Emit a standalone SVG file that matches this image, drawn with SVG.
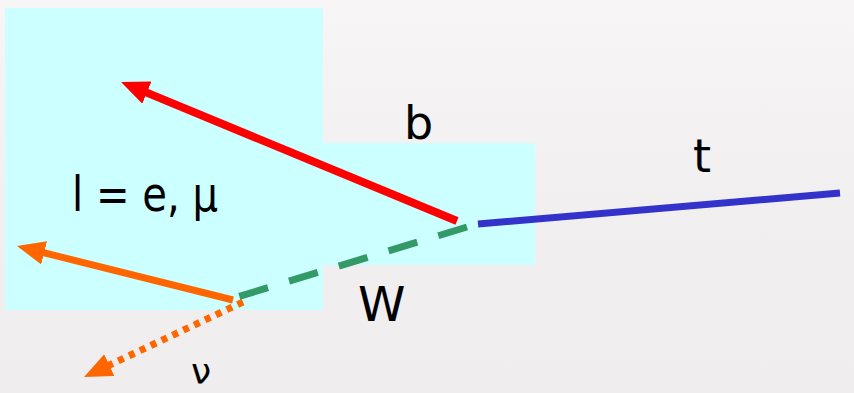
<svg xmlns="http://www.w3.org/2000/svg" width="854" height="393" viewBox="0 0 854 393">
<defs>
<linearGradient id="bg" x1="0" y1="0" x2="0" y2="1">
<stop offset="0" stop-color="#f7f5f5"/>
<stop offset="0.5" stop-color="#f1efef"/>
<stop offset="1" stop-color="#efeded"/>
</linearGradient>
<marker id="ahRed" markerUnits="userSpaceOnUse" markerWidth="30" markerHeight="26" refX="8" refY="12" orient="auto">
<path d="M0,0 L28,12 L0,24 z" fill="#ff0000"/>
</marker>
<marker id="ahOrange" markerUnits="userSpaceOnUse" markerWidth="30" markerHeight="26" refX="8" refY="12" orient="auto">
<path d="M0,0 L28,12 L0,24 z" fill="#ff6600"/>
</marker>
</defs>
<style>
.lbl{font-family:"DejaVu Sans","Liberation Sans",sans-serif;fill:#000}
.edge{fill:none}
</style>
<rect x="0" y="0" width="854" height="393" fill="url(#bg)"/>
<g id="region" fill="#ccffff">
<rect x="5" y="8" width="318" height="302"/>
<rect x="322" y="143" width="213" height="122"/>
</g>
<g id="connectors" class="edge">
<line id="top-quark" x1="478" y1="224" x2="840" y2="193" stroke="#3333cc" stroke-width="7"/>
<line id="b-quark" x1="457" y1="221" x2="139.5" y2="89.6" stroke="#ff0000" stroke-width="8" marker-end="url(#ahRed)"/>
<line id="lepton" x1="233" y1="300" x2="36.4" y2="250.9" stroke="#ff6600" stroke-width="7" marker-end="url(#ahOrange)"/>
<line id="neutrino" x1="243" y1="302" x2="102.1" y2="368.5" stroke="#ff6600" stroke-width="7" stroke-dasharray="6 6" marker-end="url(#ahOrange)"/>
<line id="w-boson" x1="467" y1="227" x2="234" y2="298" stroke="#339966" stroke-width="7" stroke-dasharray="30 22"/>
</g>
<g id="label-b"><text class="lbl" x="404" y="139" font-size="46">b</text></g>
<g id="label-t"><text class="lbl" x="693" y="172" font-size="46">t</text></g>
<g id="label-l"><text class="lbl" x="72" y="211" font-size="48" textLength="146" lengthAdjust="spacingAndGlyphs">l = e, μ</text></g>
<g id="label-W"><text class="lbl" x="358" y="321" font-size="48">W</text></g>
<g id="label-nu"><text class="lbl" x="191" y="384" font-size="36">ν</text></g>
</svg>
